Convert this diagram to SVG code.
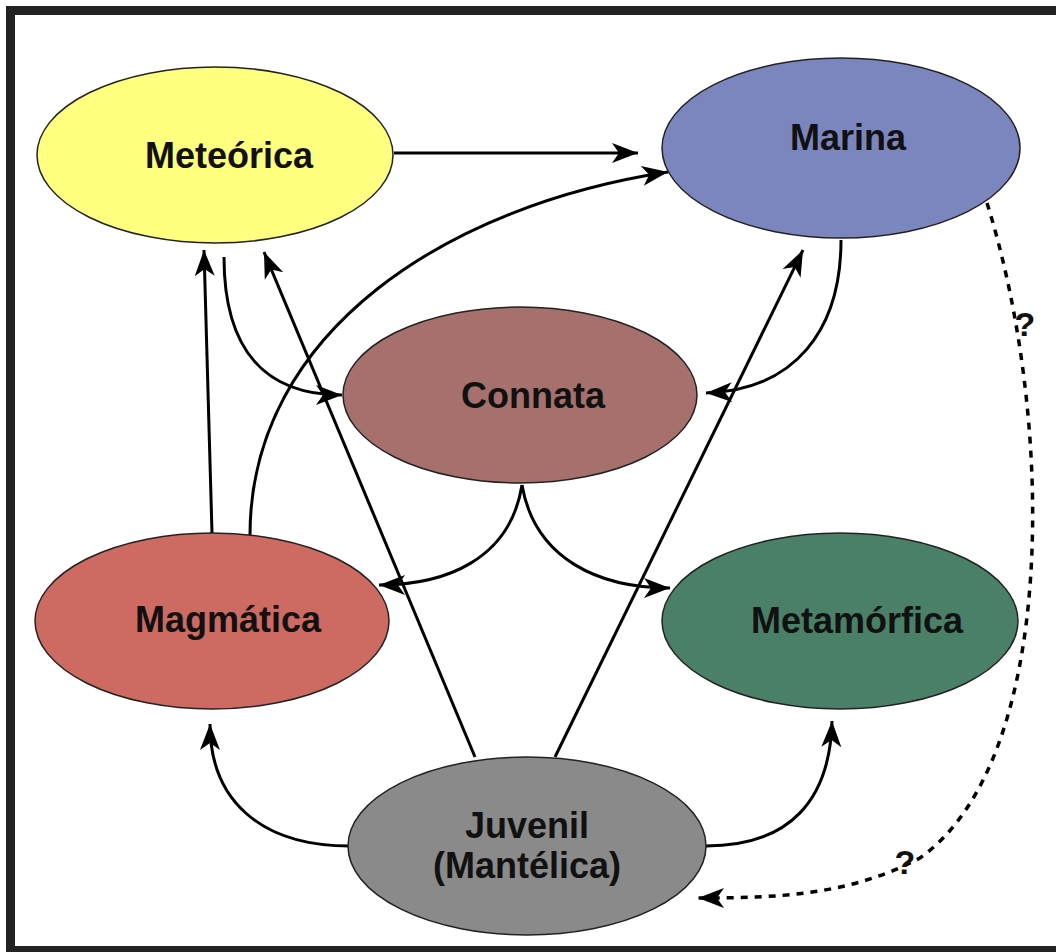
<svg xmlns="http://www.w3.org/2000/svg" width="1056" height="952" viewBox="0 0 1056 952">
<defs>
<marker id="ah" markerUnits="userSpaceOnUse" markerWidth="28" markerHeight="22" viewBox="0 0 28 22" refX="26" refY="11" orient="auto">
<path d="M0,1 L26,11 L0,21 L7,11 Z" fill="#000"/>
</marker>
<style>
.n{stroke:#222;stroke-width:1.5}
.t{font-family:"Liberation Sans",Arial,sans-serif;font-weight:bold;font-size:36px;fill:#111;text-anchor:middle}
.c{fill:none;stroke:#000;stroke-width:3;marker-end:url(#ah)}
.d{fill:none;stroke:#000;stroke-width:3.5;stroke-dasharray:7 7;marker-end:url(#ah)}
.q{font-family:"Liberation Sans",Arial,sans-serif;font-weight:bold;font-size:34px;fill:#111;text-anchor:middle}
</style>
</defs>
<rect width="1056" height="952" fill="#fff"/>
<rect x="10.5" y="10.5" width="1100" height="940" fill="none" stroke="#222" stroke-width="9"/>
<g id="connectors">
<path class="c" d="M394,153 L638,153"/>
<path class="c" d="M250,535 C250,330 450,205 668,172"/>
<path class="c" d="M212,533 L204,250"/>
<path class="c" d="M475,757 L264,252"/>
<path class="c" d="M555,757 L803,250"/>
<path class="c" d="M224,257 C224,350 265,395 342,395"/>
<path class="c" d="M841,240 C841,330 795,390 706,393"/>
<path class="c" d="M522,485 C510,560 445,585 379,585"/>
<path class="c" d="M522,485 C535,560 600,588 670,588"/>
<path class="c" d="M350,846 C260,846 210,800 210,724"/>
<path class="c" d="M706,846 C790,846 830,800 832,721"/>
<path class="d" d="M987,203 C1055,420 1058,760 920,858 C850,895 780,898 698,898"/>
<text class="q" x="1025" y="336">?</text>
<text class="q" x="905" y="874">?</text>
</g>
<g id="meteorica">
<ellipse class="n" cx="215" cy="155" rx="178" ry="88" fill="#ffff80"/>
<text class="t" x="229" y="168">Meteórica</text>
</g>
<g id="marina">
<ellipse class="n" cx="841" cy="148" rx="179" ry="90" fill="#7b86bf"/>
<text class="t" x="848" y="150">Marina</text>
</g>
<g id="connata">
<ellipse class="n" cx="520" cy="395" rx="177" ry="88" fill="#a6716d"/>
<text class="t" x="533" y="408">Connata</text>
</g>
<g id="magmatica">
<ellipse class="n" cx="212" cy="621" rx="177" ry="88" fill="#cd6a62"/>
<text class="t" x="228" y="632">Magmática</text>
</g>
<g id="metamorfica">
<ellipse class="n" cx="840" cy="621" rx="178" ry="88" fill="#4a8068"/>
<text class="t" x="857" y="633">Metamórfica</text>
</g>
<g id="juvenil">
<ellipse class="n" cx="527" cy="846" rx="179" ry="89" fill="#8a8a8a"/>
<text class="t" x="527" y="838">Juvenil</text>
<text class="t" x="527" y="878">(Mantélica)</text>
</g>
</svg>
